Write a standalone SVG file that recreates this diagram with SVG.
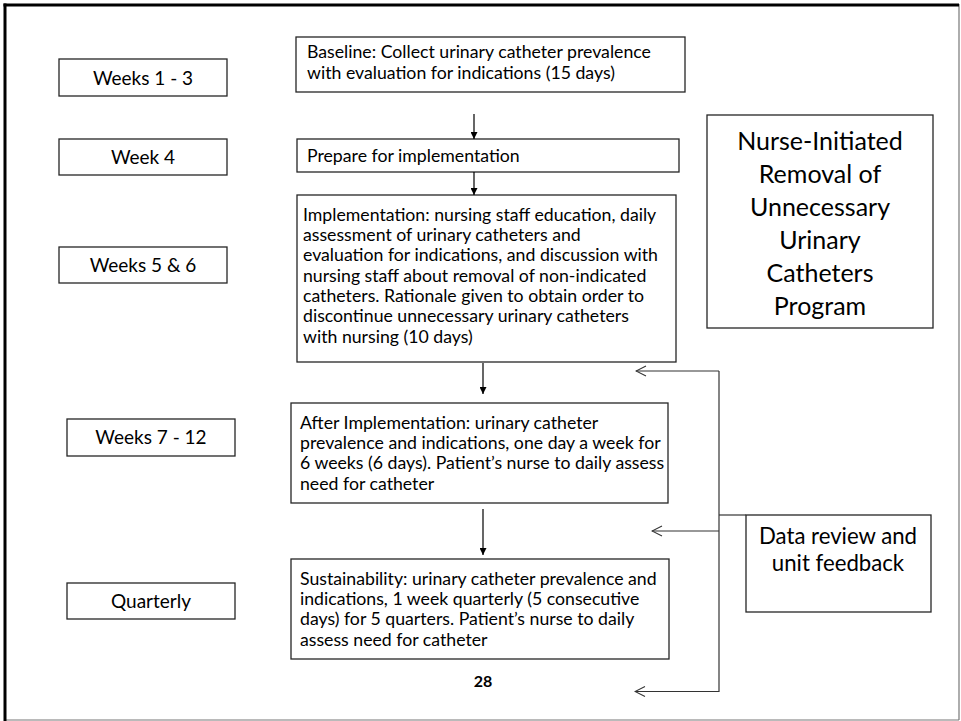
<svg xmlns="http://www.w3.org/2000/svg" width="961" height="721" viewBox="0 0 961 721">
<defs>
<style>
.box{fill:#fff;stroke:#262626;stroke-width:1.3}
.t{font-family:Lato,"Liberation Sans",sans-serif;fill:#000}
.lbl{font-size:19px;text-anchor:middle}
.body{font-size:17.7px}
.ttl{font-size:25px;text-anchor:middle}
.dr{font-size:22.2px;text-anchor:middle}
.flow{stroke:#000;stroke-width:1.2;fill:none}
.fb{stroke:#333;stroke-width:1.2;fill:none}
</style>
<marker id="ah" viewBox="0 0 10 10" refX="10" refY="5" markerWidth="7" markerHeight="7" markerUnits="userSpaceOnUse" orient="auto">
<path d="M0,0 L10,5 L0,10 z" fill="#000"/>
</marker>
<marker id="oh" viewBox="0 0 12 12" refX="11" refY="6" markerWidth="12" markerHeight="12" markerUnits="userSpaceOnUse" orient="auto">
<path d="M1,1 L11,6 L1,11" fill="none" stroke="#333" stroke-width="1.1"/>
</marker>
</defs>
<rect width="961" height="721" fill="#fff"/>
<g id="frame">
<line x1="959" y1="4" x2="959" y2="720" stroke="#777" stroke-width="1.2"/>
<line x1="4" y1="720" x2="959" y2="720" stroke="#777" stroke-width="1.2"/>
<line x1="5" y1="3.5" x2="5" y2="721" stroke="#000" stroke-width="3"/>
<line x1="3.5" y1="5" x2="959" y2="5" stroke="#000" stroke-width="3"/>
</g>
<g id="weeks1-3"><rect class="box" x="59" y="59" width="168" height="37"/><text class="t lbl" x="143" y="85">Weeks 1 - 3</text></g>
<g id="week4"><rect class="box" x="59" y="139" width="168" height="36"/><text class="t lbl" x="143" y="164">Week 4</text></g>
<g id="weeks5-6"><rect class="box" x="59" y="247" width="168" height="36"/><text class="t lbl" x="143" y="272">Weeks 5 &amp; 6</text></g>
<g id="weeks7-12"><rect class="box" x="67" y="419" width="168" height="37"/><text class="t lbl" x="151" y="444">Weeks 7 - 12</text></g>
<g id="quarterly"><rect class="box" x="67" y="583" width="168" height="36"/><text class="t lbl" x="151" y="608">Quarterly</text></g>
<g id="baseline"><rect class="box" x="296" y="37" width="389" height="55"/>
<text class="t body"><tspan x="307" y="57.5">Baseline: Collect urinary catheter prevalence</tspan><tspan x="307" y="78.5">with evaluation for indications (15 days)</tspan></text></g>
<g id="prepare"><rect class="box" x="297" y="139" width="382" height="33"/>
<text class="t body" x="307" y="161.5">Prepare for implementation</text></g>
<g id="implementation"><rect class="box" x="297" y="195" width="379" height="167"/>
<text class="t body"><tspan x="303" y="220.5">Implementation: nursing staff education, daily</tspan><tspan x="303" y="240.8">assessment of urinary catheters and</tspan><tspan x="303" y="261.1">evaluation for indications, and discussion with</tspan><tspan x="303" y="281.5">nursing staff about removal of non-indicated</tspan><tspan x="303" y="301.8">catheters. Rationale given to obtain order to</tspan><tspan x="303" y="322.1">discontinue unnecessary urinary catheters</tspan><tspan x="303" y="342.5">with nursing (10 days)</tspan></text></g>
<g id="after"><rect class="box" x="291" y="403" width="377" height="100"/>
<text class="t body"><tspan x="300" y="428.5">After Implementation: urinary catheter</tspan><tspan x="300" y="448.8">prevalence and indications, one day a week for</tspan><tspan x="300" y="469.1">6 weeks (6 days). Patient’s nurse to daily assess</tspan><tspan x="300" y="489.5">need for catheter</tspan></text></g>
<g id="sustainability"><rect class="box" x="291" y="559" width="378" height="100"/>
<text class="t body"><tspan x="300" y="584.5">Sustainability: urinary catheter prevalence and</tspan><tspan x="300" y="604.8">indications, 1 week quarterly (5 consecutive</tspan><tspan x="300" y="625.1">days) for 5 quarters. Patient’s nurse to daily</tspan><tspan x="300" y="645.5">assess need for catheter</tspan></text></g>
<g id="title"><rect class="box" x="707" y="115" width="226" height="213"/>
<text class="t ttl"><tspan x="820" y="150">Nurse-Initiated</tspan><tspan x="820" y="183">Removal of</tspan><tspan x="820" y="216">Unnecessary</tspan><tspan x="820" y="249">Urinary</tspan><tspan x="820" y="282">Catheters</tspan><tspan x="820" y="315">Program</tspan></text></g>
<g id="data-review"><rect class="box" x="746" y="515" width="185" height="97"/>
<text class="t dr"><tspan x="838" y="544">Data review and</tspan><tspan x="838" y="571">unit feedback</tspan></text></g>
<g id="page-number"><text class="t" x="483" y="687" font-size="16" font-weight="bold" text-anchor="middle">28</text></g>
<g id="connectors">
<line class="flow" x1="474" y1="114" x2="474" y2="139" marker-end="url(#ah)"/>
<line class="flow" x1="474" y1="172" x2="474" y2="195" marker-end="url(#ah)"/>
<line class="flow" x1="483" y1="363" x2="483" y2="394" marker-end="url(#ah)"/>
<line class="flow" x1="483" y1="509" x2="483" y2="555" marker-end="url(#ah)"/>
<polyline class="fb" points="719,515 746,515"/>
<line class="fb" x1="719" y1="371" x2="719" y2="692"/>
<line class="fb" x1="719" y1="371" x2="636" y2="371" marker-end="url(#oh)"/>
<line class="fb" x1="719" y1="531" x2="652" y2="531" marker-end="url(#oh)"/>
<line class="fb" x1="719" y1="691.5" x2="635" y2="691.5" marker-end="url(#oh)"/>
</g>
</svg>
